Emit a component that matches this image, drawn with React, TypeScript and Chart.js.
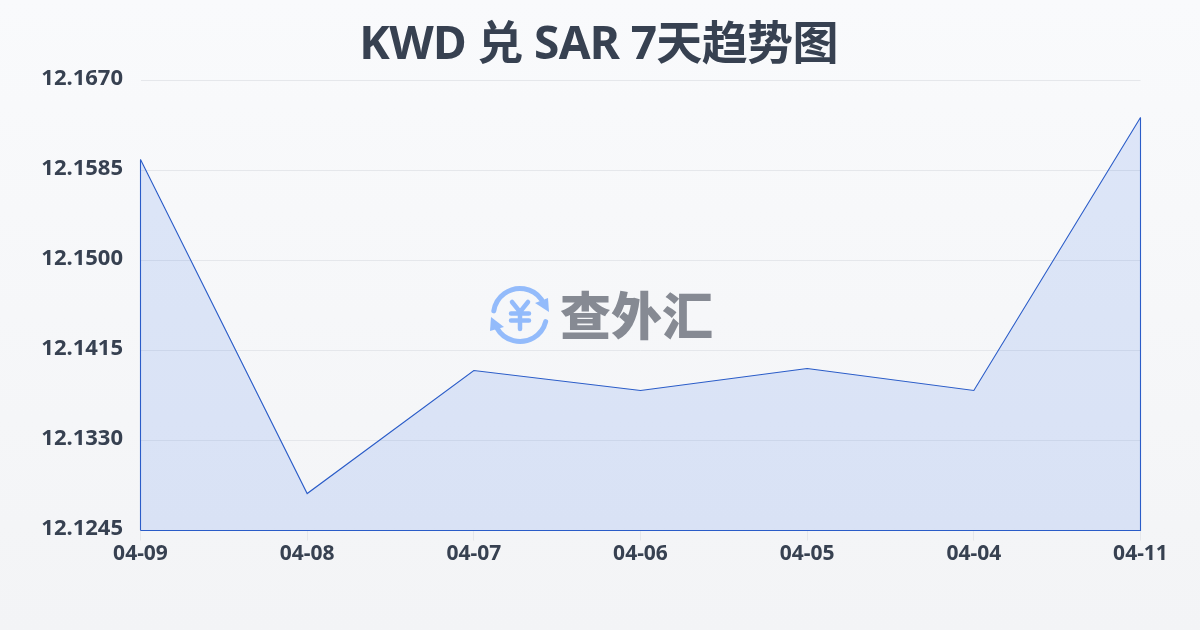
import React, { useEffect, useRef } from "react";
import { Chart, registerables } from "chart.js";

Chart.register(...registerables);

const categories = ["04-09", "04-08", "04-07", "04-06", "04-05", "04-04", "04-11"];
const rates = [12.15954, 12.12799, 12.13961, 12.13772, 12.1398, 12.13772, 12.1635];
const yTicks = [12.1245, 12.133, 12.1415, 12.15, 12.1585, 12.167];
const titleText = "KWD 兑 SAR 7天趋势图";
const watermarkText = "查外汇";

const FONT = '"Noto Sans", "Noto Sans CJK SC", sans-serif';
const INK = "#374151";
const LINE = "#2a5cc8";
const LOGO = "#93bbfb";

const titlePainter = {
  id: "titlePainter",
  afterDraw(chart: any) {
    const { ctx } = chart;
    ctx.save();
    ctx.fillStyle = INK;
    ctx.font = `bold 46px ${FONT}`;
    ctx.letterSpacing = "-0.65px";
    ctx.textAlign = "center";
    ctx.textBaseline = "middle";
    ctx.fillText(titleText, 598.5, 46);
    ctx.restore();
  },
};

const areaOutline = {
  id: "areaOutline",
  afterDatasetsDraw(chart: any) {
    const pts = chart.getDatasetMeta(0).data;
    const { ctx, chartArea } = chart;
    ctx.save();
    ctx.strokeStyle = LINE;
    ctx.lineWidth = 1.1;
    ctx.beginPath();
    ctx.moveTo(pts[0].x, chartArea.bottom);
    ctx.lineTo(pts[0].x, pts[0].y);
    ctx.moveTo(pts[pts.length - 1].x, pts[pts.length - 1].y);
    ctx.lineTo(pts[pts.length - 1].x, chartArea.bottom);
    ctx.lineTo(pts[0].x, chartArea.bottom);
    ctx.stroke();
    ctx.restore();
  },
};

const watermark = {
  id: "watermark",
  beforeDatasetsDraw(chart: any) {
    const { ctx } = chart;
    const cx = 520;
    const cy = 315;
    const triangle = (a: number[], b: number[], c: number[]) => {
      ctx.beginPath();
      ctx.moveTo(a[0], a[1]);
      ctx.lineTo(b[0], b[1]);
      ctx.lineTo(c[0], c[1]);
      ctx.closePath();
      ctx.fill();
    };
    ctx.save();
    ctx.strokeStyle = LOGO;
    ctx.fillStyle = LOGO;
    ctx.lineCap = "round";
    ctx.lineWidth = 5;
    ctx.beginPath();
    ctx.arc(cx, cy, 26.5, Math.PI * 1.05, Math.PI * 1.8);
    ctx.stroke();
    ctx.beginPath();
    ctx.arc(cx, cy, 26.5, Math.PI * 0.08, Math.PI * 0.84);
    ctx.stroke();
    triangle([535, 303], [548, 298], [549, 312]);
    triangle([491, 317], [490, 331], [504, 327]);
    ctx.lineWidth = 4.5;
    ctx.beginPath();
    ctx.moveTo(512, 302);
    ctx.lineTo(520, 312);
    ctx.lineTo(528, 302);
    ctx.moveTo(520, 312);
    ctx.lineTo(520, 329);
    ctx.moveTo(511, 313.5);
    ctx.lineTo(529, 313.5);
    ctx.moveTo(511, 320.5);
    ctx.lineTo(529, 320.5);
    ctx.stroke();
    ctx.fillStyle = "#868a93";
    ctx.font = '900 51px "Noto Sans CJK SC", sans-serif';
    ctx.textAlign = "left";
    ctx.textBaseline = "middle";
    ctx.fillText(watermarkText, 560, 316);
    ctx.restore();
  },
};

export default function App() {
  const ref = useRef<HTMLCanvasElement>(null);
  useEffect(() => {
    document.body.style.margin = "0";
    const chart = new Chart(ref.current!, {
      type: "line",
      data: {
        labels: categories,
        datasets: [
          {
            data: rates,
            borderColor: LINE,
            borderWidth: 1.1,
            backgroundColor: "rgba(37,99,235,0.13)",
            fill: "origin",
            tension: 0,
            pointRadius: 0,
          },
        ],
      },
      plugins: [watermark, areaOutline, titlePainter],
      options: {
        responsive: false,
        animation: false,
        layout: { padding: { left: 0, right: 59.5, top: 80.5, bottom: 0 } },
        plugins: {
          legend: { display: false },
          tooltip: { enabled: false },
          title: { display: false },
        },
        scales: {
          x: {
            type: "category",
            offset: false,
            afterFit(axis: any) {
              axis.height = 99.5;
            },
            grid: { drawOnChartArea: false, drawTicks: true, tickLength: 10, color: "#e5e7eb" },
            border: { display: false },
            ticks: {
              color: INK,
              font: { family: FONT, size: 21, weight: "bold" },
              maxRotation: 0,
              autoSkip: false,
              padding: 1,
            },
          },
          y: {
            min: yTicks[0],
            max: yTicks[yTicks.length - 1],
            afterBuildTicks(axis: any) {
              axis.ticks = yTicks.map((value) => ({ value }));
            },
            afterFit(axis: any) {
              axis.width = 140.5;
            },
            grid: { drawTicks: false, color: "#e5e7eb" },
            border: { display: false },
            ticks: {
              color: INK,
              font: { family: FONT, size: 22, weight: "bold" },
              padding: 17.5,
              labelOffset: -1.5,
              callback: (v: any) => Number(v).toFixed(4),
            },
          },
        },
      },
    });
    return () => chart.destroy();
  }, []);
  return (
    <div
      style={{
        width: 1200,
        height: 630,
        background: "linear-gradient(180deg, #f9fafc 0%, #f3f4f6 100%)",
      }}
    >
      <canvas ref={ref} width={1200} height={630} style={{ display: "block" }} />
    </div>
  );
}
